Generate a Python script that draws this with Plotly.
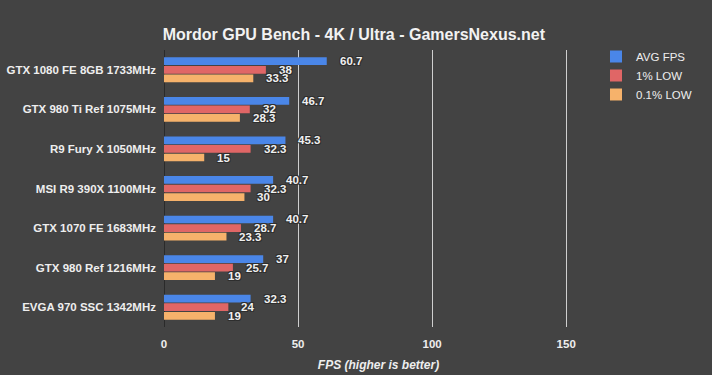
import plotly.graph_objects as go

categories = [
    "GTX 1080 FE 8GB 1733MHz",
    "GTX 980 Ti Ref 1075MHz",
    "R9 Fury X 1050MHz",
    "MSI R9 390X 1100MHz",
    "GTX 1070 FE 1683MHz",
    "GTX 980 Ref 1216MHz",
    "EVGA 970 SSC 1342MHz",
]
avg_fps = [60.7, 46.7, 45.3, 40.7, 40.7, 37, 32.3]
low_1 = [38, 32, 32.3, 32.3, 28.7, 25.7, 24]
low_01 = [33.3, 28.3, 15, 30, 23.3, 19, 19]
series_names = ["AVG FPS", "1% LOW", "0.1% LOW"]
series_colors = ["#4a86e8", "#e06666", "#f6b26b"]
x_ticks = [0, 50, 100, 150]

BG = "#434343"
FONT = "Liberation Sans, Arial, sans-serif"
W, H = 712, 375
ML, MR, MT, MB = 164, 119, 50, 48
XMAX = 160

fig = go.Figure()
series = [avg_fps, low_1, low_01]
for name, vals, col in zip(series_names, series, series_colors):
    fig.add_trace(go.Bar(
        y=categories, x=vals, name=name, orientation="h",
        marker=dict(color=col, line=dict(width=0)),
        hoverinfo="x+y",
    ))

# value labels
plot_h = H - MT - MB
cat_h = plot_h / len(categories)
bargap = 0.35
bar_h = cat_h * (1 - bargap) / 3
shadow = ("1px 1px 0 #2e2e2e, -1px -1px 0 #2e2e2e, 1px -1px 0 #2e2e2e, "
          "-1px 1px 0 #2e2e2e")
annotations = []
for i, vals in enumerate(series):
    yshift = (1 - i) * bar_h
    for c, v in zip(categories, vals):
        annotations.append(dict(
            x=v, y=c, xref="x", yref="y", text=f"{v:g}",
            showarrow=False, xanchor="left", yanchor="middle",
            xshift=11, yshift=yshift,
            font=dict(family=FONT, size=11.5, color="#f0f0f0", weight="bold",
                      shadow=shadow),
        ))

fig.update_layout(
    width=W, height=H,
    margin=dict(l=ML, r=MR, t=MT, b=MB, pad=0, autoexpand=False),
    paper_bgcolor=BG, plot_bgcolor=BG,
    barmode="group", bargap=bargap, bargroupgap=0.1,
    font=dict(family=FONT, color="#eeeeee"),
    title=dict(
        text="<b>Mordor GPU Bench - 4K / Ultra - GamersNexus.net</b>",
        x=0.497, xref="container", xanchor="center",
        y=1 - 34.5 / H, yref="container", yanchor="middle",
        font=dict(family=FONT, size=16, color="#f2f2f2"),
    ),
    xaxis=dict(
        range=[0, XMAX], tickvals=x_ticks,
        showgrid=True, gridcolor="#cfcfcf", gridwidth=1,
        zeroline=True, zerolinecolor="#2a2a2a", zerolinewidth=1,
        showline=False, ticks="",
        tickfont=dict(family=FONT, size=11.5, color="#eeeeee", weight="bold"),
        ticklabelstandoff=8,
        title=dict(text="<b><i>FPS (higher is better)</i></b>",
                   font=dict(family=FONT, size=12, color="#eeeeee"),
                   standoff=12),
        fixedrange=True,
    ),
    yaxis=dict(
        autorange="reversed", showgrid=False, zeroline=False,
        showline=False, ticks="",
        tickfont=dict(family=FONT, size=11.5, color="#eeeeee", weight="bold"),
        ticklabelstandoff=7,
        fixedrange=True,
    ),
    legend=dict(
        x=596 / W, xref="container", y=1 - 42 / H, yref="container",
        xanchor="left", yanchor="top",
        bgcolor="rgba(0,0,0,0)",
        font=dict(family=FONT, size=11.5, color="#eeeeee"),
        itemclick=False, itemdoubleclick=False,
        tracegroupgap=0,
    ),
    annotations=annotations,
    showlegend=True,
)

fig.write_html(
    "out.html",
    config={"displayModeBar": False, "responsive": False},
    post_script="document.body.style.margin='0';document.body.style.background='" + BG + "';",
)
